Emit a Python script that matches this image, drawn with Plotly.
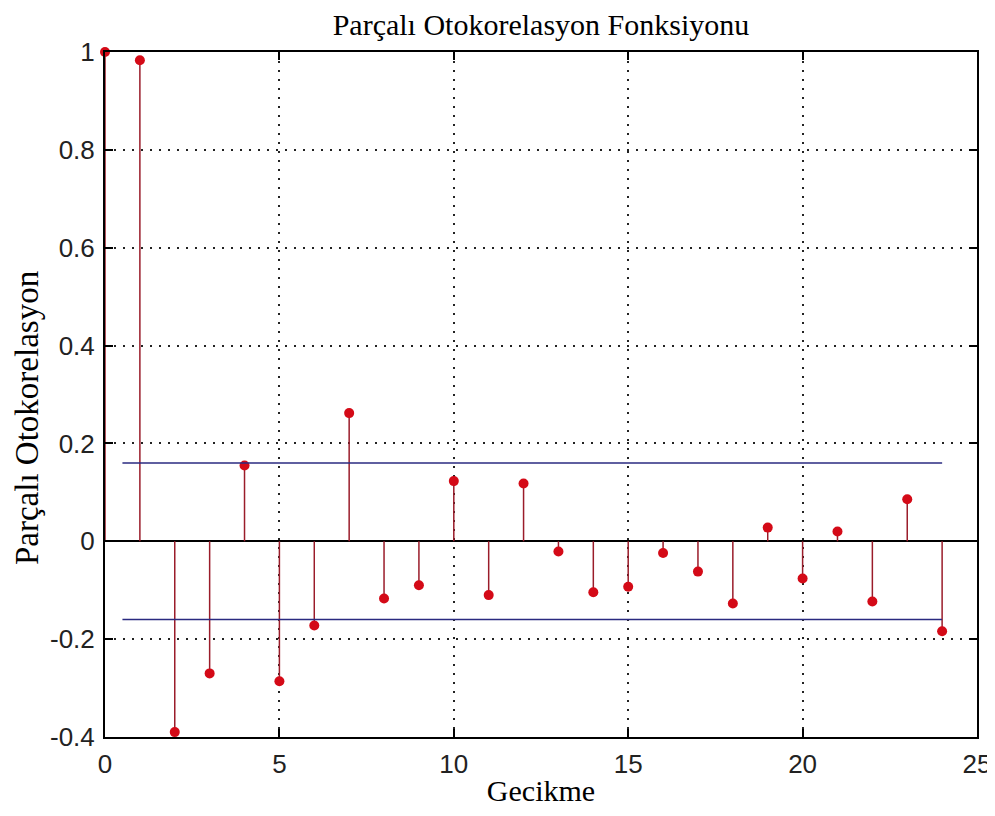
import plotly.graph_objects as go

# partial autocorrelation values
lags = list(range(25))
pacf = [1.0, 0.983, -0.39, -0.27, 0.155, -0.286, -0.172, 0.262, -0.117, -0.09,
        0.123, -0.11, 0.118, -0.021, -0.104, -0.093, -0.024, -0.062, -0.127,
        0.028, -0.076, 0.020, -0.123, 0.086, -0.184]

bound = 0.16
bound_x = [0.5, 24]

x_ticks = [0, 5, 10, 15, 20, 25]
y_ticks = [-0.4, -0.2, 0, 0.2, 0.4, 0.6, 0.8, 1]
y_ticklabels = ["-0.4", "-0.2", "0", "0.2", "0.4", "0.6", "0.8", "1"]

SERIF = "Liberation Serif, Times New Roman, serif"
SANS = "Liberation Sans, Arial, sans-serif"

# stems as one trace, segments separated by None
sx, sy = [], []
for lag, v in zip(lags, pacf):
    sx += [lag, lag, None]
    sy += [0, v, None]

fig = go.Figure()
fig.add_trace(go.Scatter(x=sx, y=sy, mode="lines",
                         line=dict(color="#9a1c2a", width=1.5),
                         hoverinfo="skip", showlegend=False))
fig.add_trace(go.Scatter(x=lags, y=pacf, mode="markers", cliponaxis=False,
                         marker=dict(color="#d40a17", size=10),
                         showlegend=False))
for b in (bound, -bound):
    fig.add_trace(go.Scatter(x=bound_x, y=[b, b], mode="lines",
                             line=dict(color="#2a2a80", width=1.5),
                             showlegend=False))

axis_common = dict(
    showline=True, linecolor="black", linewidth=2, mirror="ticks",
    ticks="inside", ticklen=8, tickwidth=2, tickcolor="black",
    showgrid=True, gridcolor="#222", gridwidth=1.5, griddash="2px,7px",
    tickfont=dict(family=SANS, size=26, color="#222"),
    ticklabelstandoff=3, automargin=False,
)

# page body has an 8px margin, so the figure is shrunk to fit the window
fig.update_layout(
    width=987, height=808,
    paper_bgcolor="white", plot_bgcolor="white",
    margin=dict(l=97, r=18, t=44, b=79),
    title=dict(text="Parçalı Otokorelasyon Fonksiyonu", x=0.540, xanchor="center",
               y=0.993, yanchor="top",
               font=dict(family=SERIF, size=30, color="black")),
    xaxis=dict(range=[0, 25], tickvals=x_ticks,
               title=dict(text="Gecikme", font=dict(family=SERIF, size=30, color="black"),
                          standoff=2),
               zeroline=False, **axis_common),
    yaxis=dict(range=[-0.4, 1], tickvals=y_ticks, ticktext=y_ticklabels,
               zeroline=True, zerolinecolor="black", zerolinewidth=2,
               **axis_common),
    annotations=[dict(text="Parçalı Otokorelasyon", textangle=-90,
                      xref="paper", yref="paper", x=-0.0894, y=0.4657,
                      xanchor="center", yanchor="middle", showarrow=False,
                      font=dict(family=SERIF, size=33, color="black"))],
)

fig.write_html("out.html")
